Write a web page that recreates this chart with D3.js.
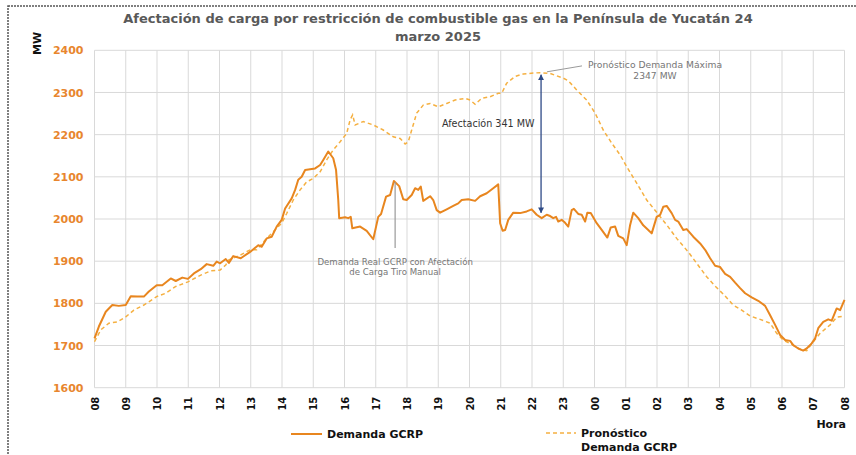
<!DOCTYPE html>
<html>
<head>
<meta charset="utf-8">
<script src="https://cdn.jsdelivr.net/npm/d3@7/dist/d3.min.js"></script>
<style>
  html, body { margin: 0; padding: 0; background: #ffffff; }
  svg { display: block; }
</style>
</head>
<body>
<svg id="chart" width="856" height="455"></svg>
<script>
// ---------------- DATA ----------------
const hourLabels = ["08","09","10","11","12","13","14","15","16","17","18","19","20",
                    "21","22","23","00","01","02","03","04","05","06","07","08"];
const yTicks = [1600,1700,1800,1900,2000,2100,2200,2300,2400];

// Demanda GCRP (real), hours elapsed since 08:00
const realHours = [0,0.14,0.36,0.57,0.78,1.0,1.16,1.37,1.58,1.74,1.99,2.17,2.44,2.6,2.81,2.99,3.18,3.4,3.59,3.8,3.91,4.02,4.2,4.3,4.44,4.68,4.98,
  5.24,5.35,5.51,5.67,5.83,5.99,6.1,6.31,6.42,6.52,6.63,6.74,6.9,7.06,7.22,7.32,7.48,7.64,7.73,7.8,7.83,8.02,8.12,8.2,8.25,8.5,8.71,8.92,
  9.08,9.17,9.33,9.46,9.58,9.75,9.88,9.99,10.15,10.26,10.36,10.44,10.52,10.74,10.84,10.95,11.06,11.27,11.48,11.64,11.75,11.96,12.18,12.34,
  12.55,12.76,12.92,12.98,13.06,13.14,13.24,13.4,13.62,13.83,13.99,14.15,14.31,14.47,14.58,14.68,14.77,14.84,14.95,15.06,15.16,15.27,15.34,
  15.48,15.59,15.7,15.77,15.88,16.07,16.23,16.41,16.52,16.66,16.76,16.92,17.03,17.14,17.24,17.4,17.56,17.72,17.83,17.99,18.1,18.2,18.31,
  18.47,18.58,18.68,18.84,18.95,19.16,19.38,19.54,19.7,19.86,20.02,20.18,20.34,20.5,20.66,20.82,21.03,21.24,21.46,21.62,21.78,21.94,22.1,
  22.26,22.36,22.52,22.68,22.79,22.95,23.06,23.16,23.32,23.48,23.59,23.75,23.86,24];
const realMW = [1717,1745,1780,1796,1794,1796,1817,1816,1816,1828,1843,1843,1859,1853,1861,1858,1871,1881,1893,1889,1899,1895,1905,1896,1912,1907,1922,
  1938,1934,1954,1958,1982,1998,2025,2049,2069,2093,2100,2116,2118,2120,2128,2140,2160,2144,2116,2045,2002,2004,2002,2005,1978,1982,1972,1952,
  2005,2012,2053,2057,2090,2078,2047,2045,2057,2073,2069,2077,2043,2054,2045,2021,2015,2023,2031,2037,2045,2047,2043,2054,
  2061,2073,2082,1990,1972,1974,1998,2015,2014,2018,2023,2010,2002,2010,2007,2002,2005,1994,1998,1991,1982,2021,2024,
  2012,2010,1994,2015,2014,1990,1974,1956,1980,1982,1960,1954,1938,1986,2015,2002,1985,1974,1966,2005,2010,2029,2031,
  2014,1998,1994,1974,1976,1958,1942,1927,1907,1889,1886,1870,1863,1849,1836,1824,1814,1806,1794,1772,1749,1725,1713,
  1711,1701,1693,1688,1693,1705,1717,1741,1756,1762,1759,1788,1784,1808];

// Pronóstico Demanda GCRP (forecast)
const fcstHours = [0,0.2,0.46,0.73,1.0,1.26,1.58,1.99,2.28,2.6,2.99,3.4,3.72,4.02,4.2,4.3,4.68,4.98,5.19,5.46,5.72,5.99,6.15,6.36,6.58,6.79,
  7.0,7.22,7.43,7.64,7.86,8.07,8.18,8.26,8.34,8.6,8.92,9.24,9.56,9.78,9.94,10.04,10.15,10.31,10.52,10.74,11.0,11.27,11.54,11.86,12.02,12.18,
  12.39,12.66,12.92,13.03,13.19,13.46,13.72,14.04,14.25,14.58,15.0,15.16,15.43,15.75,16.02,16.28,16.55,16.82,17.03,17.35,17.67,18.01,18.31,
  18.63,19.0,19.27,19.59,19.86,20.12,20.44,20.71,20.98,21.3,21.62,21.83,22.04,22.26,22.58,22.79,23.0,23.22,23.54,23.75,24];
const fcstMW = [1709,1737,1753,1756,1768,1784,1796,1816,1824,1840,1851,1867,1877,1879,1891,1903,1915,1927,1927,1950,1970,1990,2013,2045,2069,2088,
  2096,2112,2140,2164,2183,2203,2235,2247,2223,2231,2223,2211,2195,2191,2178,2183,2211,2251,2270,2274,2266,2274,2282,2286,2282,2272,
  2286,2290,2298,2298,2322,2338,2344,2346,2347,2345,2334,2328,2306,2282,2251,2211,2180,2152,2124,2085,2045,2014,1986,
  1954,1922,1895,1863,1841,1822,1796,1784,1770,1762,1753,1729,1713,1705,1691,1688,1709,1729,1749,1767,1770];

const realData = realHours.map((h, i) => ({ h, v: realMW[i] }));
const fcstData = fcstHours.map((h, i) => ({ h, v: fcstMW[i] }));

// ---------------- LAYOUT ----------------
const svg = d3.select("#chart");
const L = 94.5, R = 844.5, T = 50.3, B = 387.7;
const x = d3.scaleLinear().domain([0, 24]).range([L, R]);
const y = d3.scaleLinear().domain([1600, 2400]).range([B, T]);

const realColor = "#E8861F";
const fcstColor = "#F5B041";
const tickOrange = "#E8862E";

// outer dashed frame
svg.append("rect").attr("x", 8).attr("y", 6).attr("width", 900).attr("height", 500)
  .attr("fill", "none").attr("stroke", "#555").attr("stroke-width", 1.5)
  .attr("stroke-dasharray", "2,1");

// title
const title = svg.append("text").attr("x", 438).attr("text-anchor", "middle")
  .attr("font-family", "DejaVu Sans, Verdana, sans-serif").attr("font-weight", "bold")
  .attr("font-size", 13).attr("fill", "#595959");
title.append("tspan").attr("x", 438).attr("y", 23)
  .text("Afectación de carga por restricción de combustible gas en la Península de Yucatán 24");
title.append("tspan").attr("x", 438).attr("y", 41).text("marzo 2025");

// grid
const g = svg.append("g");
g.selectAll("line.hg").data(yTicks).join("line")
  .attr("x1", L).attr("x2", R).attr("y1", d => y(d)).attr("y2", d => y(d))
  .attr("stroke", "#d9d9d9").attr("stroke-width", 1);
g.selectAll("line.vg").data(d3.range(25)).join("line")
  .attr("y1", T).attr("y2", B).attr("x1", d => x(d)).attr("x2", d => x(d))
  .attr("stroke", "#d9d9d9").attr("stroke-width", 1);

// y axis labels
const yAxis = d3.axisLeft(y).tickValues(yTicks).tickSize(0).tickPadding(11).tickFormat(d3.format("d"));
const ya = svg.append("g").attr("transform", `translate(${L},0)`).call(yAxis);
ya.select(".domain").remove();
ya.selectAll("text").attr("font-family", "DejaVu Sans, Verdana, sans-serif")
  .attr("font-weight", "bold").attr("font-size", 11).attr("fill", tickOrange);

// x axis labels (rotated)
const xAxis = d3.axisBottom(x).tickValues(d3.range(25)).tickSize(0).tickFormat(i => hourLabels[i]);
const xa = svg.append("g").attr("transform", `translate(0,${B})`).call(xAxis);
xa.select(".domain").remove();
xa.selectAll("text")
  .attr("font-family", "DejaVu Sans, Verdana, sans-serif").attr("font-weight", "bold")
  .attr("font-size", 10).attr("fill", "#111")
  .attr("text-anchor", "end").attr("dy", "0.35em").attr("y", 0)
  .attr("transform", "translate(0,9) rotate(-90)");

// axis titles
svg.append("text").attr("transform", "translate(41,55) rotate(-90)")
  .attr("font-family", "DejaVu Sans, Verdana, sans-serif").attr("font-weight", "bold")
  .attr("font-size", 11).attr("fill", "#111").text("MW");
svg.append("text").attr("x", 846).attr("y", 428).attr("text-anchor", "end")
  .attr("font-family", "DejaVu Sans, Verdana, sans-serif").attr("font-weight", "bold")
  .attr("font-size", 11).attr("fill", "#111").text("Hora");

// lines
const line = d3.line().x(d => x(d.h)).y(d => y(d.v));
svg.append("path").datum(fcstData).attr("d", line).attr("fill", "none")
  .attr("stroke", fcstColor).attr("stroke-width", 1.5).attr("stroke-dasharray", "4,3");
svg.append("path").datum(realData).attr("d", line).attr("fill", "none")
  .attr("stroke", realColor).attr("stroke-width", 2).attr("stroke-linejoin", "round");

// ---------- annotations ----------
const annFont = "DejaVu Sans, Verdana, sans-serif";
// real-demand callout
svg.append("line").attr("x1", x(9.62)).attr("x2", x(9.62)).attr("y1", y(2088)).attr("y2", y(1931))
  .attr("stroke", "#9a9a9a").attr("stroke-width", 1.2);
svg.append("text").attr("x", x(9.62)).attr("y", y(1931) + 17).attr("text-anchor", "middle")
  .attr("font-family", annFont).attr("font-size", 8.6).attr("fill", "#767676")
  .text("Demanda Real GCRP con Afectación");
svg.append("text").attr("x", x(9.62)).attr("y", y(1931) + 27).attr("text-anchor", "middle")
  .attr("font-family", annFont).attr("font-size", 8.6).attr("fill", "#767676")
  .text("de Carga Tiro Manual");

// double arrow
const defs = svg.append("defs");
defs.append("marker").attr("id", "ah").attr("viewBox", "0 0 10 10").attr("refX", 9).attr("refY", 5)
  .attr("markerWidth", 4.5).attr("markerHeight", 4.5).attr("orient", "auto-start-reverse")
  .append("path").attr("d", "M0,0 L10,5 L0,10 z").attr("fill", "#2E4A86");
svg.append("line").attr("x1", x(14.29)).attr("x2", x(14.29)).attr("y1", y(2342)).attr("y2", y(2015))
  .attr("stroke", "#2E4A86").attr("stroke-width", 1.3)
  .attr("marker-start", "url(#ah)").attr("marker-end", "url(#ah)");
svg.append("text").attr("x", 442).attr("y", 127).attr("font-family", annFont)
  .attr("font-size", 9.6).attr("fill", "#333").text("Afectación 341 MW");

// forecast max callout
svg.append("line").attr("x1", x(14.48)).attr("y1", y(2349)).attr("x2", x(15.6)).attr("y2", y(2363))
  .attr("stroke", "#9a9a9a").attr("stroke-width", 1);
svg.append("text").attr("x", 655).attr("y", 68).attr("text-anchor", "middle")
  .attr("font-family", annFont).attr("font-size", 9.2).attr("fill", "#767676")
  .text("Pronóstico Demanda Máxima");
svg.append("text").attr("x", 655).attr("y", 79).attr("text-anchor", "middle")
  .attr("font-family", annFont).attr("font-size", 9.2).attr("fill", "#767676")
  .text("2347 MW");

// ---------- legend ----------
const legFont = "DejaVu Sans, Verdana, sans-serif";
svg.append("line").attr("x1", 291).attr("x2", 322).attr("y1", 434).attr("y2", 434)
  .attr("stroke", realColor).attr("stroke-width", 2);
svg.append("text").attr("x", 327).attr("y", 438).attr("font-family", legFont)
  .attr("font-weight", "bold").attr("font-size", 11).attr("fill", "#111").text("Demanda GCRP");
svg.append("line").attr("x1", 546).attr("x2", 576).attr("y1", 433).attr("y2", 433)
  .attr("stroke", fcstColor).attr("stroke-width", 1.5).attr("stroke-dasharray", "4,3");
svg.append("text").attr("x", 581).attr("y", 437).attr("font-family", legFont)
  .attr("font-weight", "bold").attr("font-size", 11).attr("fill", "#111").text("Pronóstico");
svg.append("text").attr("x", 581).attr("y", 451).attr("font-family", legFont)
  .attr("font-weight", "bold").attr("font-size", 11).attr("fill", "#111").text("Demanda GCRP");
</script>
</body>
</html>
